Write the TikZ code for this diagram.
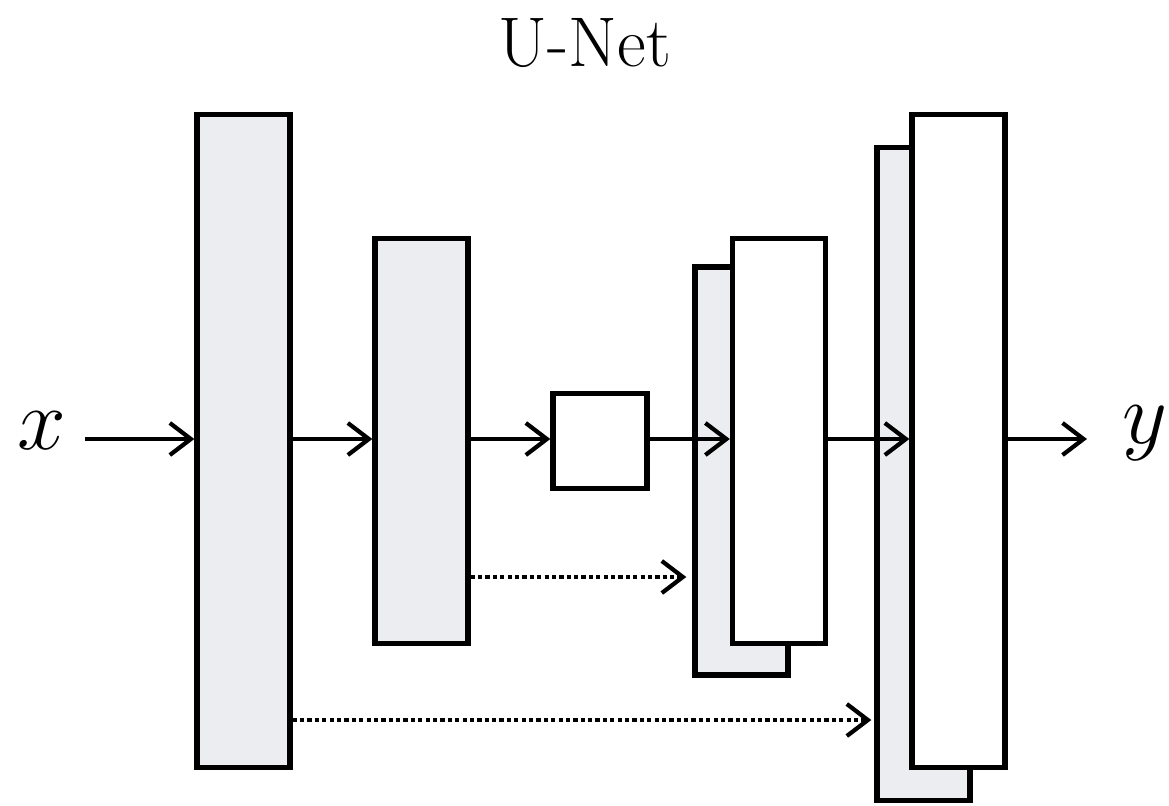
\documentclass[tikz,border=0pt]{standalone}
\usepackage{tikz}
\usetikzlibrary{arrows.meta}
\definecolor{boxgray}{RGB}{236,237,240}
\tikzset{
	graybox/.style={rectangle, draw=black, fill=boxgray, line width=1.5pt, inner sep=0pt, minimum width=0.93cm},
	whitebox/.style={rectangle, draw=black, fill=white, line width=1.5pt, inner sep=0pt, minimum width=0.93cm},
	flow/.style={-{Straight Barb[length=2.1mm,width=3.2mm,line width=1.2pt]}, line width=1.1pt},
	skip/.style={-{Straight Barb[length=2.1mm,width=3.2mm,line width=1.2pt]}, line width=1.1pt, dash pattern=on 1.2pt off 0.9pt}
}
\begin{document}
\begin{tikzpicture}[x=0.01cm,y=-0.01cm]
			\useasboundingbox (0,0) rectangle (1169,805);
			\node (title) at (585,43) {\fontsize{20}{24}\selectfont U-Net};
			
			% encoder
			\node[graybox, minimum height=6.52cm] (enc1) at (243.5,441) {};
			\node[graybox, minimum height=4.05cm] (enc2) at (421.5,441) {};
			\node[whitebox, minimum width=0.94cm, minimum height=0.95cm] (bott) at (600,441) {};
			
			% decoder
			\node[graybox, minimum height=4.08cm] (cat2) at (741.5,471) {};
			\node[whitebox, minimum height=4.05cm] (dec2) at (779,441) {};
			\node[graybox, minimum height=6.52cm] (cat1) at (923.5,474) {};
			\node[whitebox, minimum height=6.52cm] (dec1) at (958.5,441) {};
			
			\node (x) at (42,431) {\fontsize{31}{33}\selectfont $x$};
			\node (y) at (1145,433) {\fontsize{31}{33}\selectfont $y$};
			\coordinate (xend) at (85,439);
			\coordinate (yend) at (1087,439);
			
			\draw[flow] (xend) -- (enc1.west |- xend);
			\draw[flow] (enc1.east |- xend) -- (enc2.west |- xend);
			\draw[flow] (enc2.east |- xend) -- (bott.west |- xend);
			\draw[flow] (bott.east |- xend) -- (dec2.west |- xend);
			\draw[flow] (dec2.east |- xend) -- (dec1.west |- xend);
			\draw[flow] (dec1.east |- yend) -- (yend);
			
			% skip connections
			\draw[skip] (enc2.east |- 0,577) -- ([xshift=-0.06cm]cat2.west |- 0,577);
			\draw[skip] (enc1.east |- 0,720) -- ([xshift=-0.03cm]cat1.west |- 0,720);
\end{tikzpicture}
\end{document}
